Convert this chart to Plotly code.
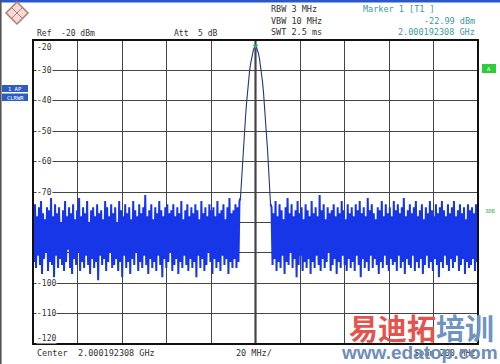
import numpy as np
import plotly.graph_objects as go

# ---------------- data ----------------
span_mhz = 200.0
center_label = "2.000192308 GHz"
y_ticks = [-20, -30, -40, -50, -60, -70, -80, -90, -100, -110, -120]
y_tick_labels = ["-20", "-30", "-40", "-50", "-60", "-70", "", "", "-100", "-110", "-120"]

noise_left = [
    -76,-93,-74,-95,-78,-91,-75,-94,-73,-97,-77,-92,-79,-90,-75,-96,-76,-93,-72,-94,
    -78,-98,-74,-91,-77,-95,-75,-92,-80,-94,-76,-96,-73,-93,-78,-89,-75,-95,-77,-97,
    -74,-92,-79,-94,-76,-90,-72,-96,-78,-93,-75,-95,-77,-91,-73,-94,-80,-97,-76,-92,
    -75,-95,-78,-93,-74,-99,-77,-91,-76,-94,-79,-92,-73,-96,-75,-93,-78,-90,-74,-95,
    -77,-94,-75,-92,-80,-96,-73,-93,-76,-98,-78,-91,-74,-95,-77,-93,-75,-97,-79,-92,
    -73,-94,-76,-90,-78,-96,-74,-93,-77,-95,-75,-91,-71,-94,-78,-97,-76,-92,-74,-95,
    -79,-93,-75,-96,-77,-91,-73,-94,-76,-98,-78,-92,-75,-95,-74,-93,-77,-90,-76,-96,
    -74,-94,-78,-92,-75,-97,-77,-93,-73,-95,-79,-91,-76,-94,-74,-96,-78,-92,-75,-95,
    -77,-93,-74,-98,-76,-91,-79,-95,-73,-92,-77,-96,-75,-94,-78,-90,-74,-93,-76,-97,
    -75,-92,-78,-95,-73,-93,-77,-96,-76,-91,-74,-94,-79,-92,-75,-97,-72,-93,-77,-95,
    -76,-92,-74,-95,-75,-93,-73,
]
peak = [
    -72,-66,-60,-55,-50,-45.5,-41,-37,-33.5,-30.5,-28,-26,-24.3,-23.1,-22.3,-22,
    -22.4,-23.2,-24.5,-26.2,-28.3,-30.8,-33.8,-37.3,-41.3,-45.8,-50.8,-56,-62,-68,-74,
]
noise_right = [
    -75,-94,-77,-92,-73,-96,-78,-93,-74,-95,-76,-91,-79,-97,-75,-93,-72,-94,-77,-90,
    -74,-95,-78,-92,-76,-98,-73,-94,-77,-91,-75,-96,-79,-93,-74,-95,-76,-92,-78,-97,
    -73,-93,-77,-95,-75,-91,-78,-94,-71,-96,-76,-92,-74,-95,-79,-93,-75,-90,-77,-96,
    -76,-94,-74,-92,-78,-97,-75,-93,-77,-95,-73,-91,-76,-94,-79,-96,-74,-92,-77,-95,
    -75,-93,-78,-96,-74,-91,-76,-94,-73,-98,-77,-92,-75,-95,-78,-93,-72,-96,-76,-91,
    -74,-95,-77,-92,-79,-94,-75,-97,-76,-93,-73,-95,-78,-91,-74,-94,-77,-96,-75,-92,
    -78,-94,-73,-93,-76,-96,-74,-91,-77,-95,-75,-93,-72,-97,-78,-92,-76,-94,-74,-95,
    -77,-91,-75,-96,-73,-93,-78,-95,-76,-92,-74,-97,-79,-94,-75,-91,-77,-95,-73,-93,
    -76,-96,-78,-92,-74,-94,-77,-98,-75,-93,-73,-95,-76,-91,-78,-94,-74,-96,-77,-92,
    -75,-95,-73,-93,-78,-91,-76,-96,-74,-94,-77,-92,-75,-97,-79,-93,-74,-95,-76,-94,
    -75,-92,-77,-96,-74,-93,-76,
]

trace_vals = np.array(noise_left + peak + noise_right, dtype=float)
# sweep points evenly spread over the span (offset from center, MHz)
freq = np.linspace(-span_mhz / 2, span_mhz / 2, len(trace_vals))
i0, i1 = len(noise_left), len(noise_left) + len(peak)
imax = int(np.argmax(trace_vals))

# ---------------- figure ----------------
W, H = 500, 364
ML, MR, MT, MB = 33, 22, 40, 20
PW, PH = W - ML - MR, H - MT - MB

def px(x):
    return (x - ML) / PW

def py(y):
    return (H - MB - y) / PH

fig = go.Figure()
blue = "#1636e8"
fig.add_trace(go.Scatter(x=freq[: i0 + 1], y=trace_vals[: i0 + 1], mode="lines",
                         line=dict(color=blue, width=2.0), hoverinfo="skip"))
fig.add_trace(go.Scatter(x=freq[i1 - 1:], y=trace_vals[i1 - 1:], mode="lines",
                         line=dict(color=blue, width=2.0), hoverinfo="skip"))
fig.add_trace(go.Scatter(x=freq[i0:i1], y=trace_vals[i0:i1], mode="lines",
                         line=dict(color="#22348f", width=1.1), hoverinfo="skip"))
fig.add_trace(go.Scatter(x=[freq[imax]], y=[trace_vals[imax]], mode="markers",
                         marker=dict(symbol="triangle-down", size=5, color="#20b0a0"),
                         hoverinfo="skip"))

grid_col = "#444444"
fig.update_xaxes(range=[-span_mhz / 2, span_mhz / 2], dtick=20, tick0=-100,
                 showgrid=True, gridcolor=grid_col, gridwidth=1,
                 showticklabels=False, ticks="", zeroline=False,
                 showline=False)
fig.update_yaxes(range=[-120, -20], dtick=10, tick0=-120,
                 showgrid=True, gridcolor=grid_col, gridwidth=1,
                 showticklabels=False, ticks="", zeroline=False,
                 showline=False)

shapes = []
# center line thicker + frame
shapes.append(dict(type="line", xref="x", yref="paper", x0=0, x1=0, y0=0, y1=1,
                   line=dict(color="#222", width=2), layer="below"))
shapes.append(dict(type="rect", xref="paper", yref="paper", x0=0, x1=1, y0=0, y1=1,
                   line=dict(color="#111", width=2)))
# top blue bar and left dark edge
shapes.append(dict(type="rect", xref="paper", yref="paper", x0=px(0), x1=px(W),
                   y0=py(2.5), y1=py(0), fillcolor="#2a58c8", line=dict(width=0)))
shapes.append(dict(type="rect", xref="paper", yref="paper", x0=px(0), x1=px(1.6),
                   y0=py(H), y1=py(0), fillcolor="#555", line=dict(width=0)))
# logo diamond
shapes.append(dict(type="path", xref="paper", yref="paper",
                   path=f"M {px(17)} {py(2)} L {px(28)} {py(13)} L {px(17)} {py(24)} L {px(6)} {py(13)} Z",
                   fillcolor="#f3dcd6", line=dict(color="#b87a78", width=1.5)))
shapes.append(dict(type="path", xref="paper", yref="paper",
                   path=f"M {px(11.5)} {py(7.5)} L {px(22.5)} {py(18.5)} M {px(22.5)} {py(7.5)} L {px(11.5)} {py(18.5)}",
                   line=dict(color="#b87a78", width=1)))
# left blue boxes
shapes.append(dict(type="rect", xref="paper", yref="paper", x0=px(2), x1=px(28),
                   y0=py(92), y1=py(85), fillcolor="#2c5cc4", line=dict(width=0)))
shapes.append(dict(type="rect", xref="paper", yref="paper", x0=px(2), x1=px(28),
                   y0=py(101), y1=py(93.5), fillcolor="#2c5cc4", line=dict(width=0)))
# right green box
shapes.append(dict(type="rect", xref="paper", yref="paper", x0=px(482), x1=px(496),
                   y0=py(73), y1=py(64), fillcolor="#2ecc3a", line=dict(width=0)))

mono = "DejaVu Sans Mono"
ann = []

def txt(x, y, s, color="#333", size=8.5, anchor="left", bg=None, font=mono):
    d = dict(xref="paper", yref="paper", x=px(x), y=py(y), text=s, showarrow=False,
             xanchor=anchor, yanchor="middle", font=dict(family=font, size=size, color=color))
    if bg:
        d["bgcolor"] = bg
        d["borderpad"] = 0
    ann.append(d)

# y tick labels
for v, lab in zip(y_ticks, y_tick_labels):
    if not lab:
        continue
    yy = MT + (-20 - v) / 100 * PH
    if v == -20:
        yy += 8
    elif v == -120:
        yy -= 6
    txt(36, yy, lab, size=8, bg="white")

teal = "#3a9aa4"
txt(35, 33, "Ref  -20 dBm", size=8)
txt(172, 33, "Att  5 dB", size=8)
txt(269, 9, "RBW 3 MHz", size=8.5)
txt(269, 21, "VBW 10 MHz", size=8.5)
txt(269, 32, "SWT 2.5 ms", size=8.5)
txt(361, 9, "Marker 1 [T1 ]", color=teal, size=8.5)
txt(477, 21, f"{trace_vals[imax]-0.99:.2f} dBm", color=teal, size=8.5, anchor="right")
txt(477, 32, center_label, color=teal, size=8.5, anchor="right")
txt(35, 353, "Center  " + center_label, size=8.5)
txt(234, 353, "20 MHz/", size=8.5)
txt(477, 353, f"Span {span_mhz:.0f} MHz", size=8.5, anchor="right")
txt(15, 88.5, "1 AP", color="white", size=5.5, anchor="center")
txt(15, 97.5, "CLRWR", color="white", size=5.5, anchor="center")
txt(489, 68.5, "A", color="white", size=5.5, anchor="center")
txt(483, 211, "3DB", color="#3aa84a", size=5.5)

# watermark
ann.append(dict(xref="paper", yref="paper", x=px(421), y=py(327),
                text="<b><span style='color:#e2554e'>易迪拓</span><span style='color:#6f93c2'>培训</span></b>",
                showarrow=False, xanchor="center", yanchor="middle",
                font=dict(family="Noto Sans CJK SC", size=29)))
ann.append(dict(xref="paper", yref="paper", x=px(419), y=py(352),
                text="<b>www.edatop.com</b>", showarrow=False, xanchor="center", yanchor="middle",
                font=dict(family="Liberation Sans", size=19, color="#6d8dbb")))

fig.update_layout(width=W, height=H, margin=dict(l=ML, r=MR, t=MT, b=MB),
                  paper_bgcolor="white", plot_bgcolor="white", showlegend=False,
                  shapes=shapes, annotations=ann)

fig.write_html("out.html")
